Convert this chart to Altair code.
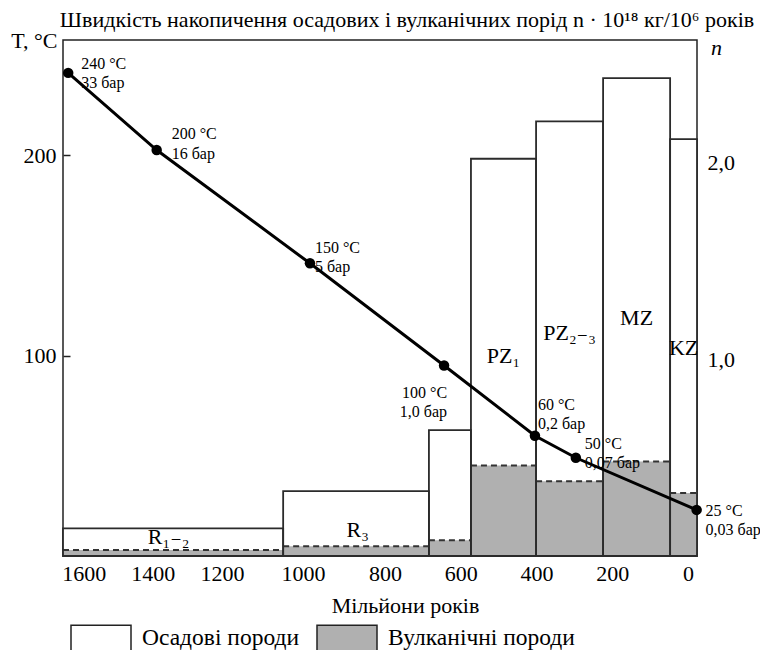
import altair as alt
import pandas as pd

F = "Liberation Serif, DejaVu Serif, serif"

# ---- data ----
period = ["R1-2", "R3", "V", "PZ1", "PZ2-3", "MZ", "KZ"]
start_ma = [1660, 1049, 684, 573, 401, 224, 47]
end_ma = [1049, 684, 573, 401, 224, 47, -24]
sed_rate = [0.14, 0.33, 0.64, 2.02, 2.21, 2.43, 2.12]
volc_rate = [0.03, 0.05, 0.08, 0.46, 0.38, 0.48, 0.32]
period_label = ["R₁₋₂", "R₃", "", "PZ₁", "PZ₂₋₃", "MZ", "KZ"]
period_label_n = [0.097, 0.132, 0.0, 1.017, 1.134, 1.21, 1.058]

point_ma = [1645, 1389, 983, 644, 404, 296, -23]
point_temp = [241, 202.5, 146, 95, 60, 49, 23]
temp_text = ["240 °C", "200 °C", "150 °C", "100 °C", "60 °C", "50 °C", "25 °C"]
pressure_text = ["33 бар", "16 бар", "5 бар", "1,0 бар", "0,2 бар", "0,07 бар", "0,03 бар"]

x_ticks = [1600, 1400, 1200, 1000, 800, 600, 400, 200, 0]
t_ticks = [100, 200]
n_ticks = [1.0, 2.0]
legend_names = ["Осадові породи", "Вулканічні породи"]

bars = pd.DataFrame({
    "period": period, "start": start_ma, "end": end_ma,
    "sed": sed_rate, "volc": volc_rate,
    "label": period_label, "label_n": period_label_n,
})
pts = pd.DataFrame({
    "idx": list(range(len(point_ma))), "age": point_ma, "temp": point_temp,
    "txt": [a + "\n" + b for a, b in zip(temp_text, pressure_text)],
})

# ---- scales / axes (the original time axis is slightly uneven: piecewise scale) ----
xscale = alt.Scale(domain=[1660, 1200, 1000, 800, -24], range=[0, 159, 240, 322, 634],
                   nice=False, zero=False)
xaxis = alt.Axis(values=x_ticks, format="d", title="Мільйони років", domain=False,
                 tickSize=7, offset=-7, labelPadding=7, labelFontSize=22, titleFontSize=22,
                 titleX=342, titleY=56, titleBaseline="middle", titleAlign="center",
                 grid=False, labelFlush=False, labelOverlap=False)
nscale = alt.Scale(domain=[0, 2.624], nice=False, zero=False)
naxis = alt.Axis(values=n_ticks, orient="right", domain=False, tickSize=7, offset=-7,
                 labelPadding=10, labelFontSize=22, grid=False,
                 labelExpr="replace(format(datum.value, '.1f'), '.', ',')",
                 title="n", titleFontStyle="italic", titleFontSize=22, titleAngle=0,
                 titleX=26, titleY=7, titleAlign="center", titleBaseline="middle")
tscale = alt.Scale(domain=[0, 257.4], nice=False, zero=False)
taxis = alt.Axis(values=t_ticks, orient="left", domain=False, tickSize=7, offset=-7,
                 labelPadding=7, labelFontSize=22, grid=False,
                 title="T, °C", titleFontSize=22, titleAngle=0,
                 titleX=-13, titleY=0, titleAlign="right", titleBaseline="middle")

fill_scale = alt.Scale(domain=legend_names, range=["white", "#b0b0b0"])
legend = alt.Legend(title=None, orient="none", legendX=7, legendY=567, direction="horizontal",
                    symbolType="M-1,-0.43H1V0.43H-1Z", symbolSize=3600,
                    symbolStrokeColor="#222", symbolStrokeWidth=1.5,
                    labelFontSize=23.5, labelFont=F, labelOffset=10, columnPadding=14,
                    labelLimit=400, padding=0, labelColor="black")


def X(f):
    return alt.X(f"{f}:Q", scale=xscale, axis=xaxis)


def Yn(f):
    return alt.Y(f"{f}:Q", scale=nscale, axis=naxis)


bb = alt.Chart(bars)
sed_rect = bb.mark_rect().transform_calculate(kind="'Осадові породи'").encode(
    x=X("start"), x2="end", y=Yn("sed"), y2=alt.datum(0),
    fill=alt.Fill("kind:N", scale=fill_scale, legend=legend))
volc_rect = bb.mark_rect().transform_calculate(kind="'Вулканічні породи'").encode(
    x=X("start"), x2="end", y=Yn("volc"), y2=alt.datum(0),
    fill=alt.Fill("kind:N", scale=fill_scale, legend=legend))
volc_top = bb.mark_rule(strokeDash=[6, 4], strokeWidth=2, color="#333").encode(
    x=X("start"), x2="end", y=Yn("volc"))
outline = bb.mark_rect(fillOpacity=0, stroke="#2b2b2b", strokeWidth=1.8).encode(
    x=X("start"), x2="end", y=Yn("sed"), y2=alt.datum(0))
blabels = bb.transform_filter("datum.label != ''").transform_calculate(
    mid="(datum.start + datum.end) / 2").mark_text(
    font=F, fontSize=22, color="black", baseline="middle").encode(
    x=X("mid"), y=Yn("label_n"), text="label:N")

bar_group = alt.layer(sed_rect, volc_rect, volc_top, outline, blabels)

pb = alt.Chart(pts)
Yt = alt.Y("temp:Q", scale=tscale, axis=taxis)
line = pb.mark_line(color="black", strokeWidth=3).encode(x=X("age"), y=Yt)
dots = pb.mark_circle(size=110, color="black", opacity=1).encode(x=X("age"), y=Yt)

placements = [(13, -9, "left"), (15, -16, "left"), (5, -15.5, "left"), (3, 27, "right"),
              (3, -31, "left"), (9, -14, "left"), (9, 1, "left")]
txt_layers = []
for i, (dx, dy, al) in enumerate(placements):
    txt_layers.append(
        pb.transform_filter(f"datum.idx == {i}").mark_text(
            font=F, fontSize=16, lineHeight=19.5, lineBreak="\n", align=al,
            baseline="middle", dx=dx, dy=dy, color="black").encode(
            x=X("age"), y=Yt, text="txt:N"))

line_group = alt.layer(line, dots, *txt_layers)

chart = alt.layer(bar_group, line_group).resolve_scale(y="independent").properties(
    width=634, height=516,
    padding={"left": 55, "top": 32, "right": 63, "bottom": 94},
    autosize=alt.AutoSizeParams(type="none"),
    title=alt.TitleParams(
        text="Швидкість накопичення осадових і вулканічних порід n · 10¹⁸ кг/10⁶ років",
        font=F, fontSize=22, fontWeight="normal", color="black",
        anchor="middle", dx=27, dy=11, offset=8),
).configure_view(stroke="#222", strokeWidth=1.5).configure_axis(
    labelFont=F, titleFont=F, labelColor="black", titleColor="black",
    tickColor="#222", tickWidth=1.5, titleFontWeight="normal")

chart.save("out.html", embed_options={"renderer": "svg", "actions": False})
